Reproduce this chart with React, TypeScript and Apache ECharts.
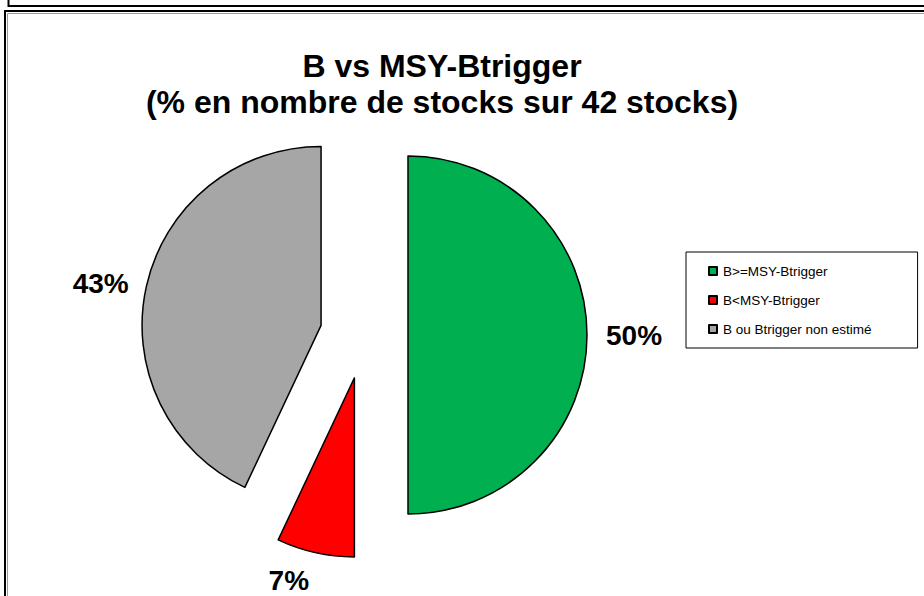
import React, { useEffect, useRef } from "react";
import * as echarts from "echarts";

const categories = ["B>=MSY-Btrigger", "B<MSY-Btrigger", "B ou Btrigger non estimé"];
const values = [50, 7, 43];
const colors = ["#00B050", "#FF0000", "#A6A6A6"];
const titleLines = ["B vs MSY-Btrigger", "(% en nombre de stocks sur 42 stocks)"];

export default function App() {
  const ref = useRef<HTMLDivElement>(null);
  useEffect(() => {
    if (!ref.current) return;
    const chart = echarts.init(ref.current, null, { renderer: "svg" });
    const labelTweaks = [
      { labelLine: { length: 10, length2: 4 }, label: { distanceToLabelLine: 5 } },
      { labelLine: { length: 29, length2: 0 }, label: { distanceToLabelLine: 0 } },
      { labelLine: { length: 15, length2: 3 }, label: { distanceToLabelLine: 0, padding: [0, 0, 8, 0] } },
    ];
    chart.setOption({
      animation: false,
      backgroundColor: "#ffffff",
      title: {
        text: titleLines.join("\n"),
        left: 442,
        top: 48,
        padding: 0,
        textAlign: "center",
        textStyle: {
          fontFamily: "Liberation Sans, Arial, sans-serif",
          fontSize: 32,
          fontWeight: "bold",
          color: "#000",
          lineHeight: 36,
        },
      },
      legend: {
        orient: "vertical",
        left: 686,
        top: 252,
        padding: [12, 46, 12, 22],
        itemGap: 15,
        itemWidth: 8,
        itemHeight: 8,
        icon: "rect",
        borderColor: "#000",
        borderWidth: 1,
        selectedMode: false,
        textStyle: {
          fontFamily: "Liberation Sans, Arial, sans-serif",
          fontSize: 13.5,
          color: "#000",
          padding: [0, 0, 0, 1],
        },
        data: categories,
      },
      graphic: [
        { type: "rect", shape: { x: 8.5, y: -10, width: 940, height: 16 }, style: { fill: "none", stroke: "#000", lineWidth: 2 } },
        { type: "rect", shape: { x: 5, y: 11, width: 940, height: 620 }, style: { fill: "none", stroke: "#000", lineWidth: 2 } },
        { type: "rect", shape: { x: 7.5, y: 13.5, width: 940, height: 620 }, style: { fill: "none", stroke: "#9a9a9a", lineWidth: 1 } },
      ],
      series: [
        {
          type: "pie",
          center: [364, 335],
          radius: 179,
          startAngle: 90,
          clockwise: true,
          selectedMode: "multiple",
          selectedOffset: 44,
          avoidLabelOverlap: false,
          silent: true,
          itemStyle: { borderColor: "#000", borderWidth: 1.5 },
          label: {
            show: true,
            position: "outside",
            formatter: "{d}%",
            fontFamily: "Liberation Sans, Arial, sans-serif",
            fontSize: 28,
            lineHeight: 24,
            fontWeight: "bold",
            color: "#000",
          },
          labelLine: { show: false },
          emphasis: { disabled: true },
          select: { itemStyle: { borderColor: "#000", borderWidth: 1.5 } },
          data: categories.map((name, i) => ({
            name,
            value: values[i],
            selected: true,
            itemStyle: { color: colors[i] },
            select: { itemStyle: { color: colors[i], borderColor: "#000", borderWidth: 1.5 } },
            labelLine: { show: false, ...labelTweaks[i].labelLine },
            label: labelTweaks[i].label,
          })),
        },
      ],
    });
    return () => chart.dispose();
  }, []);
  return (
    <div
      ref={ref}
      style={{ position: "fixed", left: 0, top: 0, width: 924, height: 596 }}
    />
  );
}
